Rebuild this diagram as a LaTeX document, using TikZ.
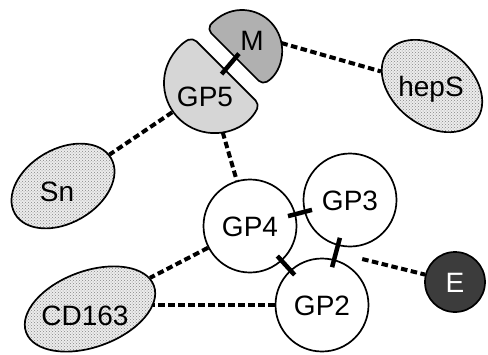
\documentclass[tikz,border=0pt]{standalone}
\usepackage{fontspec}
\setmainfont{Liberation Sans}
\usetikzlibrary{shapes.geometric,calc,patterns}
\definecolor{gpfive}{RGB}{214,214,214}
\definecolor{mgray}{RGB}{176,176,176}
\definecolor{edark}{RGB}{60,60,60}
\begin{document}
\begin{tikzpicture}[x=1pt,y=-1pt,
  every node/.style={font=\fontsize{28}{30}\selectfont},
  lbl/.style={inner sep=0pt, text height=20pt, text depth=0pt},
  prot/.style={circle, draw, line width=1.7pt, fill=white, minimum size=93pt, inner sep=0pt, text height=20pt, text depth=0pt},
  speckle/.style={ellipse, draw, line width=1.7pt, inner sep=0pt, preaction={fill=gray!15}, pattern=crosshatch dots, pattern color=gray!95},
  halfshape/.style={draw, line width=1.7pt, rounded corners=5pt},
  dline/.style={line width=4pt, dash pattern=on 6.5pt off 3.5pt},
  bar/.style={line width=4.5pt},
]
\useasboundingbox (0,0) rectangle (488,354);

% ellipses
\node[speckle, minimum width=111pt, minimum height=74pt, rotate=30] (sn) at (63,186) {};
\node[lbl] (snl) at (57,191) {Sn};
\node[speckle, minimum width=112pt, minimum height=78pt, rotate=-38] (heps) at (432,86) {};
\node[lbl] (hepsl) at (431,86) {hepS};
\node[speckle, minimum width=136pt, minimum height=76pt, rotate=20] (cd163) at (90,309) {};
\node[lbl] (cdl) at (85,315) {CD163};

% circles
\node[prot] (gp4) at (250,226) {GP4};
\node[prot] (gp3) at (350,200) {GP3};
\node[prot] (gp2) at (322,305) {GP2};
\node[prot, fill=edark, text=white, minimum size=60pt] (e) at (455,282) {E};

% GP5 and M
\coordinate (gp5c) at (214,83);
\draw[halfshape, fill=gpfive] ($(gp5c)+(25.1:50)$) arc[start angle=25.1, end angle=244.9, radius=50] -- cycle;
\node[lbl] (gp5) at (205,96) {GP5};
\coordinate (mc) at (242,50);
\draw[halfshape, fill=mgray] ($(mc)+(59.3:40)$) arc[start angle=59.3, end angle=-149.3, radius=40] -- cycle;
\node[lbl] (m) at (252,40) {M};

% dashed connectors
\draw[dline] ($(gp5c)+(145:51)$) -- (sn);
\draw[dline] ($(gp5c)+(80:50)$) -- (gp4);
\draw[dline] ($(mc)+(-10:40)$) -- (heps);
\draw[dline] (gp4) -- (cd163);
\coordinate (cdend) at ($(gp2.west)+(-122,0)$);
\draw[dline] (gp2.west) -- (cdend);
\draw[dline, shorten <=27pt] ($(gp3)!0.5!(gp2)$) -- (e);

% bars
\draw[bar] ($(gp4)!0.38!(gp3)$) -- ($(gp4)!0.62!(gp3)$);
\draw[bar] ($(gp4)!0.38!(gp2)$) -- ($(gp4)!0.62!(gp2)$);
\draw[bar] ($(gp3)!0.36!(gp2)$) -- ($(gp3)!0.64!(gp2)$);
\draw[bar] ($(gp5c)!0.27!(mc)$) -- ($(gp5c)!0.89!(mc)$);
\end{tikzpicture}
\end{document}
